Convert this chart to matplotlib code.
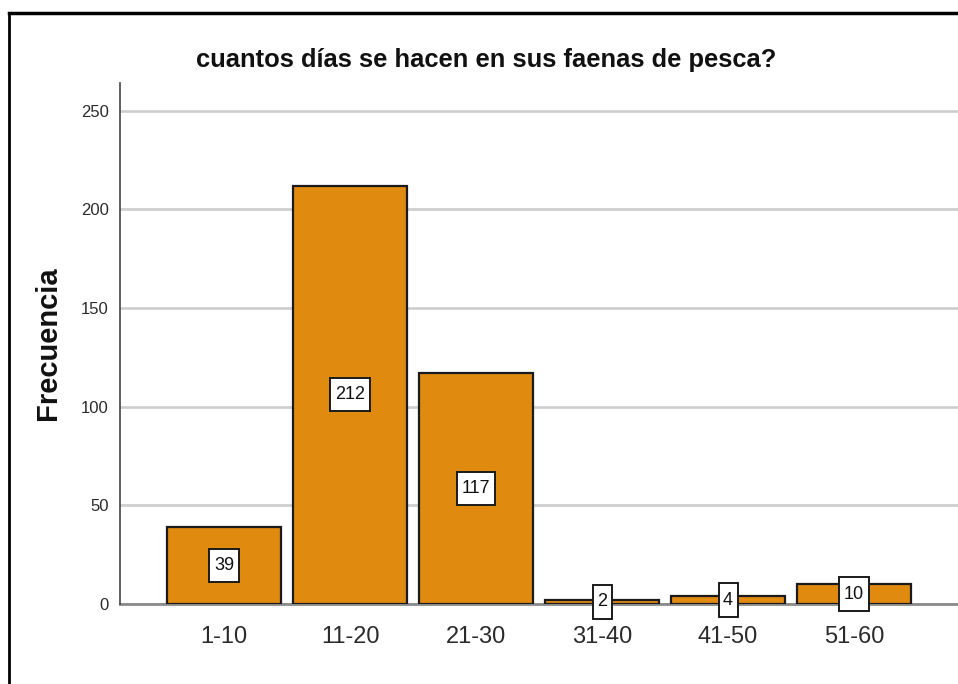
import matplotlib
matplotlib.use("Agg")
import matplotlib.pyplot as plt
from matplotlib.lines import Line2D

categories = ["1-10", "11-20", "21-30", "31-40", "41-50", "51-60"]
frecuencias = [39, 212, 117, 2, 4, 10]
y_ticks = [0, 50, 100, 150, 200, 250]

plt.rcParams['font.family'] = ['Liberation Sans', 'DejaVu Sans']
narrow = ['Liberation Sans Narrow', 'Liberation Sans', 'DejaVu Sans']

bar_color = '#E08A10'
text_color = '#2b2b2b'

fig = plt.figure(figsize=(9.58, 6.84), dpi=100)
ax = fig.add_axes([0.1253, 0.117, 0.8747, 0.7617])

x = list(range(len(categories)))
bars = ax.bar(x, frecuencias, width=0.905, color=bar_color,
              edgecolor='#1a1a1a', linewidth=1.6, zorder=3)

# value boxes in the middle of each bar (taller than wide, like SPSS)
for xi, v in zip(x, frecuencias):
    ax.text(xi, v / 2, str(v), ha='center', va='center', fontsize=13,
            family=narrow, color='#111111', zorder=5,
            bbox=dict(boxstyle='square,pad=0.25', mutation_aspect=1.8,
                      facecolor='white', edgecolor='#1a1a1a', linewidth=1.4))

ax.set_xlim(-0.825, 5.825)
ax.set_ylim(0, 264)
ax.set_yticks(y_ticks)
ax.set_xticks(x)
ax.set_xticklabels(categories, fontsize=17, color=text_color)
ax.tick_params(axis='y', labelsize=12, labelcolor=text_color, length=0, pad=8)
ax.tick_params(axis='x', length=0, pad=16)

ax.yaxis.grid(True, color='#cfcfcf', linewidth=2, zorder=0)
ax.set_axisbelow(True)
for s in ['top', 'right']:
    ax.spines[s].set_visible(False)
ax.spines['left'].set_color('#444444')
ax.spines['left'].set_linewidth(1.2)
ax.spines['bottom'].set_color('#8a8a8a')
ax.spines['bottom'].set_linewidth(2)
ax.spines['bottom'].set_zorder(1)

ax.set_ylabel("Frecuencia", fontsize=21, fontweight='bold', color='#111111', labelpad=14)
fig.text(0.508, 0.912, "cuantos días se hacen en sus faenas de pesca?",
         ha='center', va='center', fontsize=18.4, fontweight='bold', color='#111111')

# outer frame (left and top only, as in the screenshot)
fig.add_artist(Line2D([0.0094, 0.0094], [0.0, 1 - 13 / 684], transform=fig.transFigure,
                      color='black', linewidth=2))
fig.add_artist(Line2D([0.0094, 1.0], [1 - 13 / 684, 1 - 13 / 684], transform=fig.transFigure,
                      color='black', linewidth=2.5))

fig.savefig("out.png", dpi=100)
